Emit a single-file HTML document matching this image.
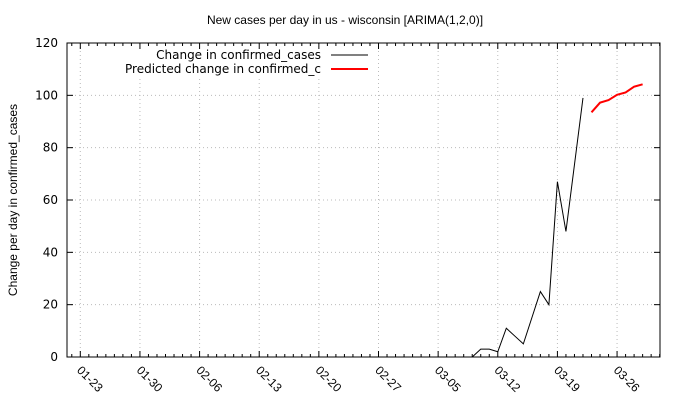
<!DOCTYPE html>
<html><head><meta charset="utf-8"><style>
html,body{margin:0;padding:0;background:#fff;}
svg{display:block;font-family:"Liberation Sans","DejaVu Sans",sans-serif;}
.dv{font-family:"DejaVu Sans",sans-serif;}
</style></head><body>
<svg id="c" width="680" height="400">
<text x="345" y="24" font-size="12" text-anchor="middle">New cases per day in us - wisconsin [ARIMA(1,2,0)]</text>
<text transform="translate(17,200) rotate(-90)" font-size="12" text-anchor="middle">Change per day in confirmed_cases</text>
</svg>
<script>
const yTicks=[0,20,40,60,80,100,120];
const xTickLabels=["01-23","01-30","02-06","02-13","02-20","02-27","03-05","03-12","03-19","03-26"];
// day index 0 = 01-23
const actualDays=[-1,0,10,20,30,40,46,47,48,49,50,51,52,53,54,55,56,57,58,59];
const actualValues=[0,0,0,0,0,0,0,3,3,2,11,8,5,15,25,20,67,48,73.5,99];
const predDays=[60,61,62,63,64,65,66];
const predValues=[93.5,97.2,98.2,100.2,101.1,103.3,104.2];

const L=67,R=660,T=43,B=357;
const x=d=>80.3+d*8.52;
const y=v=>B-(v/120)*(B-T);
const svg=document.getElementById('c');
const NS='http://www.w3.org/2000/svg';
function mk(t,a){const e=document.createElementNS(NS,t);for(const k in a)e.setAttribute(k,a[k]);svg.appendChild(e);return e;}
yTicks.forEach(v=>{if(v>0&&v<120){const g=mk('line',{x1:L,x2:R,y1:y(v),y2:y(v),stroke:'#bbb','stroke-dasharray':'1,3'});

}});
xTickLabels.forEach((s,i)=>{const xx=x(i*7);const g=mk('line',{x1:xx,x2:xx,y1:T,y2:B,stroke:'#bbb','stroke-dasharray':'1,3'});

});
const lb=mk('rect',{x:110,y:45,width:260,height:32,fill:'#fff'});


const fr=mk('rect',{x:L,y:T,width:R-L,height:B-T,fill:'none',stroke:'#000','stroke-width':1});


yTicks.forEach(v=>{
 mk('line',{x1:L,x2:L+6,y1:y(v),y2:y(v),stroke:'#000'});
 mk('line',{x1:R-6,x2:R,y1:y(v),y2:y(v),stroke:'#000'});
 const t=mk('text',{x:L-9,y:y(v)+4,'font-size':12,'text-anchor':'end',class:'dv'});t.textContent=v;
 
 
});
for(let d=-1;d<=68;d++){const xx=x(d);if(xx<=L||xx>=R)continue;const len=(d%7===0)?6:3;
 mk('line',{x1:xx,x2:xx,y1:B,y2:B-len,stroke:'#000'});mk('line',{x1:xx,x2:xx,y1:T,y2:T+len,stroke:'#000'});}
xTickLabels.forEach((s,i)=>{const xx=x(i*7);
 const t=mk('text',{transform:`translate(${xx-4},${B+14}) rotate(45)`,'font-size':12});t.textContent=s;
 
 });
const p1=mk('polyline',{points:actualDays.map((d,i)=>x(d)+','+y(actualValues[i])).join(' '),fill:'none',stroke:'#000','stroke-width':1});


const p2=mk('polyline',{points:predDays.map((d,i)=>x(d)+','+y(predValues[i])).join(' '),fill:'none',stroke:'#f00','stroke-width':2});


const t1=mk('text',{x:321,y:59,'font-size':12,'text-anchor':'end',class:'dv'});t1.textContent='Change in confirmed_cases';


mk('line',{x1:331,x2:368,y1:55,y2:55,stroke:'#000'});
const t2=mk('text',{x:321,y:73,'font-size':12,'text-anchor':'end',class:'dv'});t2.textContent='Predicted change in confirmed_c';


mk('line',{x1:331,x2:368,y1:69,y2:69,stroke:'#f00','stroke-width':2});
</script>
</body></html>
